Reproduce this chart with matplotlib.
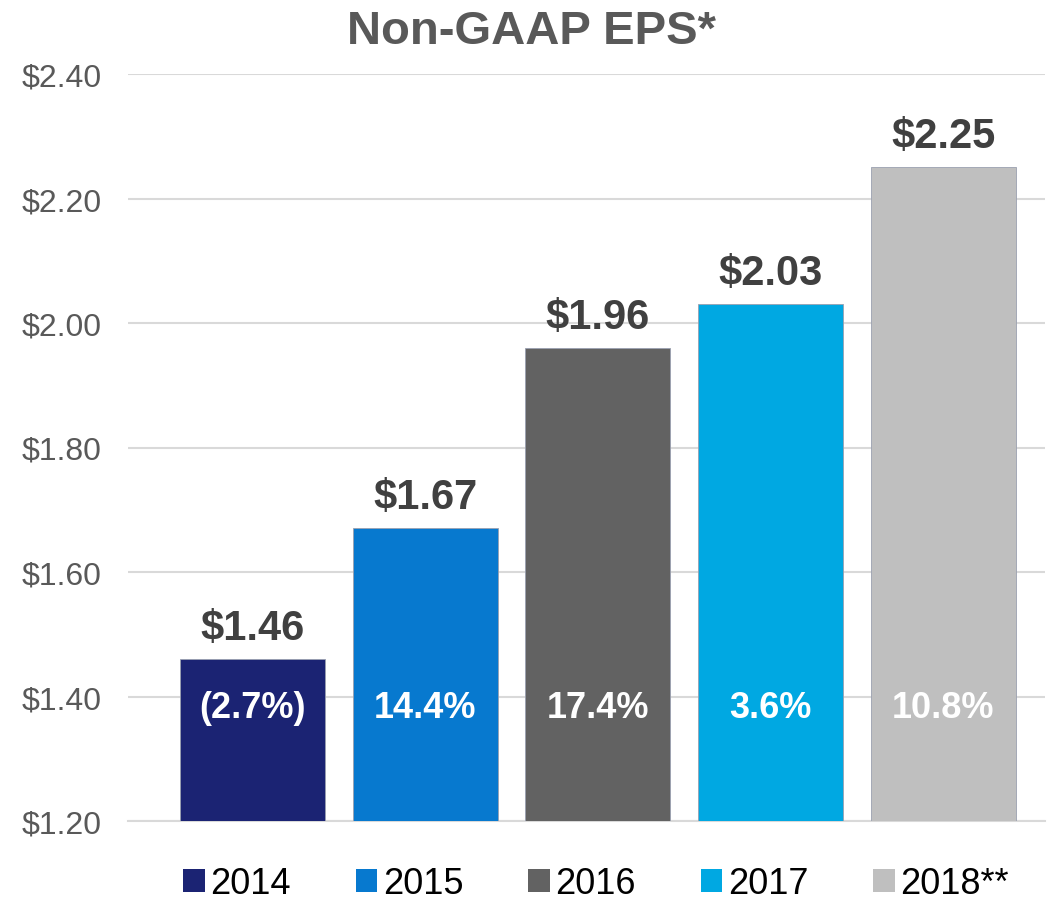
import matplotlib
matplotlib.use("Agg")
import matplotlib.pyplot as plt
from matplotlib.patches import Patch

years = ["2014", "2015", "2016", "2017", "2018**"]
eps = [1.46, 1.67, 1.96, 2.03, 2.25]
growth = ["(2.7%)", "14.4%", "17.4%", "3.6%", "10.8%"]
colors = ["#1B2373", "#0779CF", "#626262", "#00A8E2", "#BFBFBF"]
yticks = [1.20, 1.40, 1.60, 1.80, 2.00, 2.20, 2.40]

plt.rcParams['font.family'] = ['Liberation Sans', 'DejaVu Sans']

fig = plt.figure(figsize=(10.53, 9.03), dpi=100)
ax = fig.add_axes([128/1053, 1 - 822/903, (1045-128)/1053, (822-75)/903])

x = list(range(len(years)))
bars = ax.bar(x, eps, width=0.84, color=colors, edgecolor="#9aa0b0", linewidth=0.6, zorder=3)
ax.set_ylim(1.2, 2.4)
ax.set_xlim(-0.72, 4.59)
ax.set_yticks(yticks)
ax.set_yticklabels([f"${v:.2f}" for v in yticks], fontsize=23, color="#595959")
ax.set_xticks([])
ax.tick_params(axis='y', length=0, pad=19)
ax.grid(axis='y', color="#D9D9D9", linewidth=1.5, zorder=0)
for s in ["top", "right", "left"]:
    ax.spines[s].set_visible(False)
ax.spines["bottom"].set_color("#D9D9D9")
ax.spines["bottom"].set_linewidth(1.5)

for xi, v, g in zip(x, eps, growth):
    ax.annotate(f"${v:.2f}", (xi, v), xytext=(0, 8), textcoords="offset points",
                ha="center", va="bottom", fontsize=30, fontweight="bold", color="#404040")
    ax.text(xi, 1.383, g, ha="center", va="center", fontsize=26, fontweight="bold",
            color="white", zorder=4)

fig.text(0.505, 1 - 32/903, "Non-GAAP EPS*", ha="center", va="center",
         fontsize=34, fontweight="bold", color="#595959")

handles = [Patch(facecolor=c, edgecolor="none") for c in colors]
fig.legend(handles, years, loc="center", bbox_to_anchor=(0.566, 1 - 885/903), ncol=5,
           frameon=False, fontsize=26, handlelength=0.6, handleheight=0.6,
           handletextpad=0.15, columnspacing=1.8)

fig.savefig("out.png", dpi=100)
